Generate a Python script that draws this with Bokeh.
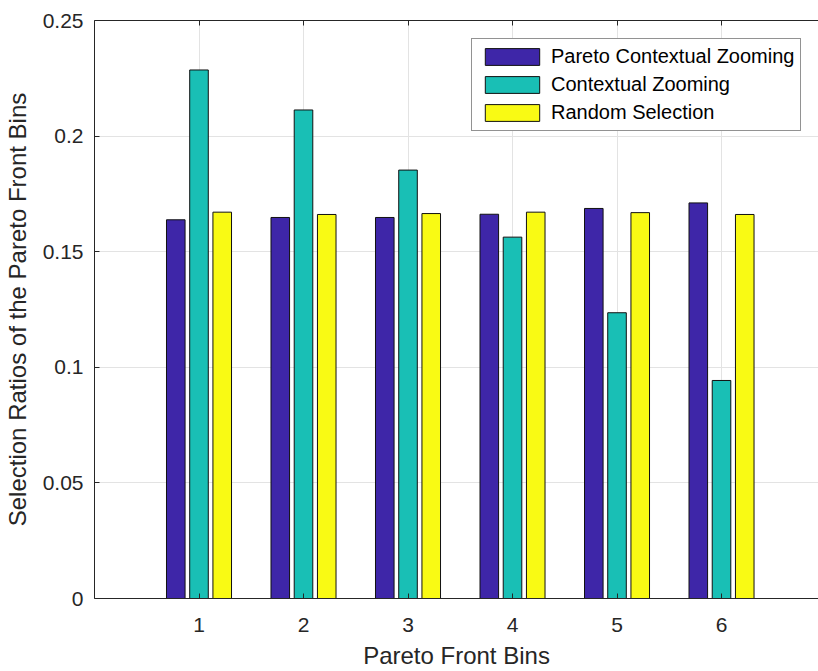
from bokeh.plotting import figure
from bokeh.models import (Range1d, FixedTicker, LinearAxis, NumeralTickFormatter,
                          ColumnDataSource, Legend, LegendItem)
from bokeh.transform import dodge
from bokeh.embed import file_html
from bokeh.resources import INLINE

# Selection ratios per Pareto front bin
bins = [1, 2, 3, 4, 5, 6]
pareto_cz = [0.1638, 0.1648, 0.1648, 0.1662, 0.1687, 0.1711]
contextual_zoom = [0.2286, 0.2113, 0.1853, 0.1563, 0.1236, 0.0943]
random_sel = [0.1671, 0.1661, 0.1665, 0.1671, 0.1669, 0.1661]
series_names = ["Pareto Contextual Zooming", "Contextual Zooming", "Random Selection"]
y_ticks = [0, 0.05, 0.1, 0.15, 0.2, 0.25]

src = ColumnDataSource(dict(bin=bins, pcz=pareto_cz, cz=contextual_zoom, rs=random_sel))

FONT = "Liberation Sans"
TXT = "#262626"

p = figure(width=818, height=671, output_backend="svg", toolbar_location=None,
           x_range=Range1d(0, 6.928), y_range=Range1d(0, 0.25),
           min_border_left=94, min_border_right=0, min_border_top=20,
           min_border_bottom=72)
p.outline_line_color = None
p.background_fill_color = "white"
p.border_fill_color = "white"

# grouped bars: three series per bin
group = 2.0 / 3.0
offset = group / 3.0
bar_w = offset * 0.8
colors = ["#3e26a8", "#19bfb5", "#f9fa14"]
fields = ["pcz", "cz", "rs"]
renderers = []
for i, (f, c) in enumerate(zip(fields, colors)):
    r = p.vbar(x=dodge("bin", (i - 1) * offset, range=p.x_range), top=f, width=bar_w,
               bottom=0, source=src, fill_color=c, line_color="#111111", line_width=1)
    renderers.append(r)

# axes styling
xa = p.xaxis[0]
xa.ticker = FixedTicker(ticks=bins)
xa.axis_label = "Pareto Front Bins"
ya = p.yaxis[0]
ya.ticker = FixedTicker(ticks=y_ticks)
ya.formatter = NumeralTickFormatter(format="0.[00]")
ya.axis_label = "Selection Ratios of the Pareto Front Bins"
for ax in (xa, ya):
    ax.major_tick_in = 5
    ax.major_tick_out = 0
    ax.minor_tick_line_color = None
    ax.axis_line_color = TXT
    ax.major_tick_line_color = TXT
    ax.major_label_text_font = FONT
    ax.major_label_text_font_size = "21px"
    ax.major_label_text_color = TXT
    ax.axis_label_text_font = FONT
    ax.axis_label_text_font_size = "24px"
    ax.axis_label_text_font_style = "normal"
    ax.axis_label_text_color = TXT
xa.major_label_standoff = 19
xa.axis_label_standoff = 7
ya.major_label_standoff = 11
ya.axis_label_standoff = 9

# top frame line with inward ticks (no labels)
top = LinearAxis(ticker=FixedTicker(ticks=bins), major_tick_in=5, major_tick_out=0,
                 minor_tick_line_color=None, major_label_text_color=None,
                 major_label_text_font_size="1px",
                 major_label_standoff=0, axis_line_color=TXT,
                 major_tick_line_color=TXT)
p.add_layout(top, "above")

p.xgrid.ticker = FixedTicker(ticks=bins)
p.ygrid.ticker = FixedTicker(ticks=y_ticks)
p.grid.grid_line_color = "#e3e3e3"
p.grid.grid_line_width = 1

legend = Legend(items=[LegendItem(label=n, renderers=[r]) for n, r in zip(series_names, renderers)],
                location=(377, 467), orientation="vertical",
                label_text_font=FONT, label_text_font_size="20px", label_text_color="black",
                glyph_width=68, glyph_height=21, label_height=21, label_standoff=5,
                padding=6, spacing=5, margin=0,
                border_line_color=TXT, border_line_width=1,
                background_fill_color="white", background_fill_alpha=1.0)
p.add_layout(legend, "center")

open("out.html", "w").write(file_html(p, INLINE))
